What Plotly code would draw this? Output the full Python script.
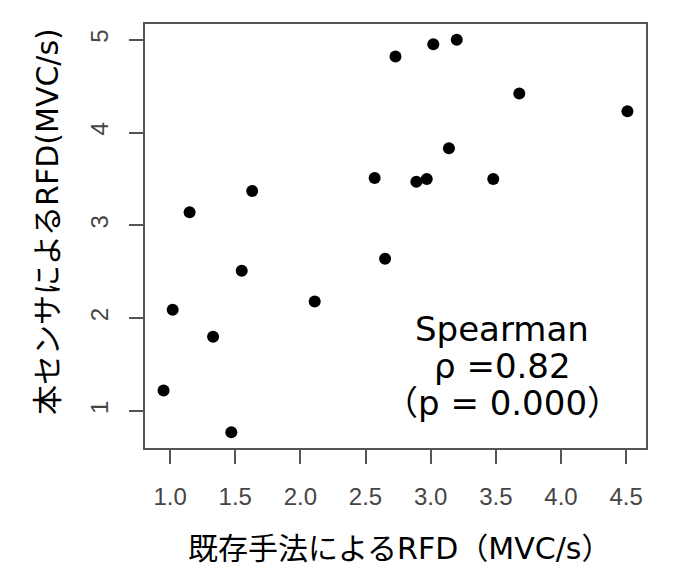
import plotly.graph_objects as go

# existing method RFD (x) vs this sensor's RFD (y)
existing_rfd = [2.73, 3.02, 3.20, 3.68, 4.51, 3.14, 2.57, 2.89, 2.97, 3.48,
                1.63, 1.15, 2.65, 1.55, 2.11, 1.02, 1.33, 0.95, 1.47]
sensor_rfd = [4.82, 4.95, 5.00, 4.42, 4.23, 3.83, 3.51, 3.47, 3.50, 3.50,
              3.37, 3.14, 2.64, 2.51, 2.18, 2.09, 1.80, 1.22, 0.77]

x_ticks = [1.0, 1.5, 2.0, 2.5, 3.0, 3.5, 4.0, 4.5]
y_ticks = [1, 2, 3, 4, 5]

stat_lines = ["Spearman", "ρ =0.82", "（p = 0.000）"]

jp_font = "DejaVu Sans, Noto Sans CJK JP"
axis_grey = "#555555"

fig = go.Figure()
fig.add_trace(go.Scatter(
    x=existing_rfd, y=sensor_rfd, mode="markers",
    marker=dict(color="black", size=12, line=dict(width=0)),
    showlegend=False,
))

# R-style 4% padding around the data
def padded(vals):
    lo, hi = min(vals), max(vals)
    d = (hi - lo) * 0.04
    return [lo - d, hi + d]

axis_common = dict(
    showline=True, linecolor=axis_grey, linewidth=1.5, mirror=True,
    ticks="outside", ticklen=14, tickwidth=1.5, tickcolor=axis_grey,
    showgrid=False, zeroline=False,
    tickfont=dict(family="Liberation Sans", size=24, color="#454545"),
)

fig.update_xaxes(range=padded(existing_rfd), tickvals=x_ticks,
                 ticktext=[f"{v:.1f}" for v in x_ticks],
                 ticklabelstandoff=12, **axis_common)
fig.update_yaxes(range=padded(sensor_rfd), tickvals=y_ticks,
                 tickangle=-90, ticklabelstandoff=12, **axis_common)

# correlation text, one annotation per line
for text, yy in zip(stat_lines, [1.88, 1.48, 1.09]):
    fig.add_annotation(x=3.55, y=yy, xref="x", yref="y", text=text,
                       showarrow=False,
                       font=dict(family=jp_font, size=34, color="black"))

# axis titles
fig.add_annotation(x=0.5, y=0, xref="paper", yref="paper", yanchor="middle",
                   yshift=-100, xshift=4, text="既存手法によるRFD（MVC/s）",
                   showarrow=False,
                   font=dict(family=jp_font, size=30, color="black"))
fig.add_annotation(x=0, y=0.533, xref="paper", yref="paper", xanchor="center",
                   xshift=-98, textangle=-90, text="本センサによるRFD(MVC/s)",
                   showarrow=False,
                   font=dict(family=jp_font, size=30, color="black"))

# page body adds ~8px offset, so margins are shifted to keep the box in place
fig.update_layout(
    width=689, height=577,
    margin=dict(l=137, r=51, t=16, b=137),
    plot_bgcolor="white", paper_bgcolor="white",
)

fig.write_html("out.html")
